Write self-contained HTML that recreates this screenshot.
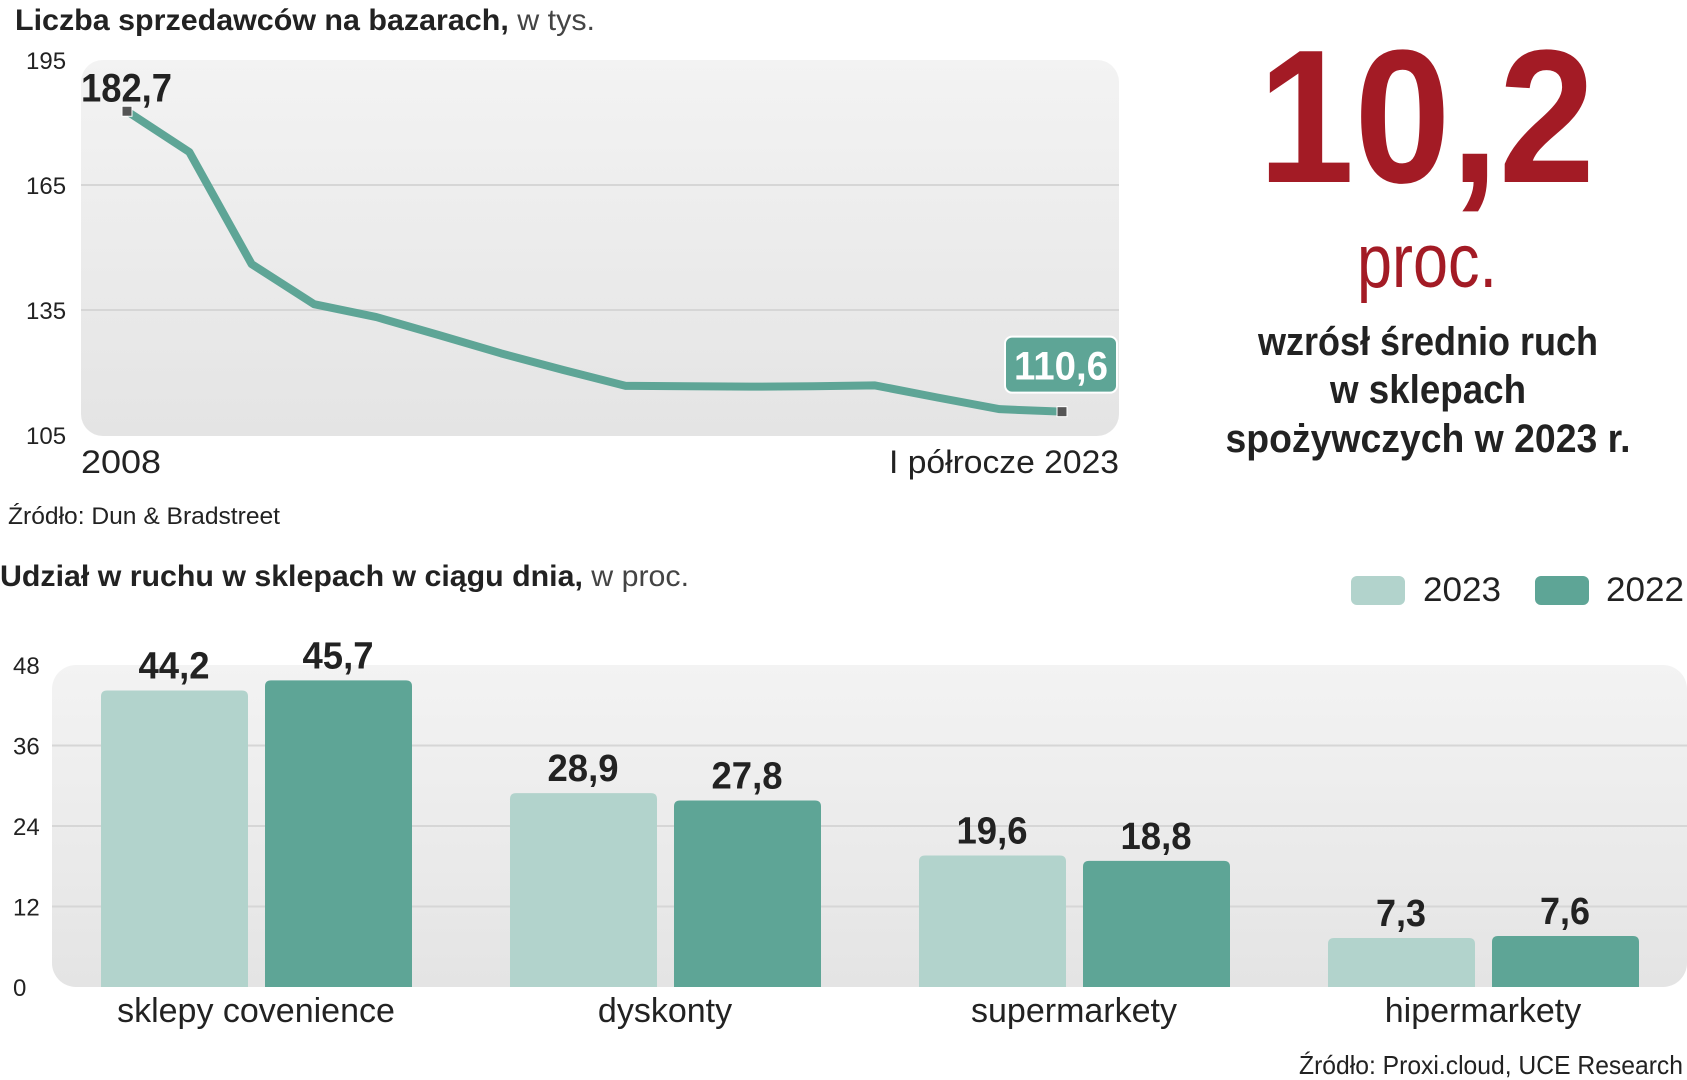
<!DOCTYPE html>
<html><head><meta charset="utf-8"><style>
html,body{margin:0;padding:0;background:#fff}
svg{display:block}
text{font-family:"Liberation Sans Narrow","Liberation Sans",sans-serif;fill:#222}
</style></head><body>
<svg id="c" width="1687" height="1080" viewBox="0 0 1687 1080" xmlns="http://www.w3.org/2000/svg">
<defs>
<linearGradient id="bg" x1="0" y1="0" x2="0" y2="1"><stop offset="0" stop-color="#f3f3f3"/><stop offset="1" stop-color="#e4e4e4"/></linearGradient>
</defs>
<text x="15" y="30" font-size="30" textLength="580" lengthAdjust="spacingAndGlyphs"><tspan font-weight="bold">Liczba sprzedawców na bazarach,</tspan><tspan fill="#444"> w tys.</tspan></text>
<rect x="81" y="60" width="1038" height="376" rx="22" fill="url(#bg)"/>
<g id="lineGrid"></g>
<g id="lineMarks"></g>
<text x="81" y="473" font-size="32" textLength="80" lengthAdjust="spacingAndGlyphs">2008</text>
<text x="1119" y="473" font-size="32" text-anchor="end" textLength="230" lengthAdjust="spacingAndGlyphs">I półrocze 2023</text>
<text x="8" y="524" font-size="24" fill="#333" textLength="272" lengthAdjust="spacingAndGlyphs">Źródło: Dun &amp; Bradstreet</text>

<text x="1258" y="182" font-size="190" font-weight="bold" style="fill:#a31b25" textLength="337" lengthAdjust="spacingAndGlyphs">10,2</text>
<text x="1357" y="287" font-size="76" style="fill:#a31b25" textLength="140" lengthAdjust="spacingAndGlyphs">proc.</text>
<text x="1428" y="355" font-size="40" font-weight="bold" text-anchor="middle" textLength="340" lengthAdjust="spacingAndGlyphs">wzrósł średnio ruch</text>
<text x="1428" y="403" font-size="40" font-weight="bold" text-anchor="middle" textLength="196" lengthAdjust="spacingAndGlyphs">w sklepach</text>
<text x="1428" y="452" font-size="40" font-weight="bold" text-anchor="middle" textLength="405" lengthAdjust="spacingAndGlyphs">spożywczych w 2023 r.</text>

<text x="0" y="586" font-size="30" textLength="689" lengthAdjust="spacingAndGlyphs"><tspan font-weight="bold">Udział w ruchu w sklepach w ciągu dnia,</tspan><tspan fill="#444"> w proc.</tspan></text>
<g>
<rect x="1351" y="576" width="54" height="29" rx="6" fill="#b2d3cc"/>
<text x="1423" y="601" font-size="34" fill="#333" textLength="78" lengthAdjust="spacingAndGlyphs">2023</text>
<rect x="1535" y="576" width="54" height="29" rx="6" fill="#5ea596"/>
<text x="1606" y="601" font-size="34" fill="#333" textLength="78" lengthAdjust="spacingAndGlyphs">2022</text>
</g>
<rect x="52" y="665" width="1635" height="322" rx="24" fill="url(#bg)"/>
<g id="barGrid"></g>
<g id="barMarks"></g>
<text x="1683" y="1074" font-size="26" fill="#333" text-anchor="end" textLength="384" lengthAdjust="spacingAndGlyphs">Źródło: Proxi.cloud, UCE Research</text>
</svg>
<script>
const lineValues = [182.7,172.9,146.0,136.4,133.3,129.0,124.6,120.6,116.8,116.7,116.6,116.7,116.9,114.0,111.2,110.6];
const lineTicks = [195,165,135,105];
const categories = ["sklepy covenience","dyskonty","supermarkety","hipermarkety"];
const values2023 = [44.2,28.9,19.6,7.3];
const values2022 = [45.7,27.8,18.8,7.6];
const barTicks = [48,36,24,12,0];
const labels2023 = ["44,2","28,9","19,6","7,3"];
const labels2022 = ["45,7","27,8","18,8","7,6"];

const NS="http://www.w3.org/2000/svg";
function mk(tag,attrs,parent,txt){const e=document.createElementNS(NS,tag);for(const k in attrs)e.setAttribute(k,attrs[k]);if(txt!==undefined)e.textContent=txt;parent.appendChild(e);return e;}
// line chart axes
const ly=v=>60+(195-v)*(375/90);
const lx=i=>127+i*(1062-127)/(lineValues.length-1);
const lg=document.getElementById('lineGrid');
lineTicks.forEach(t=>{
  if(t!==195&&t!==105){const g=mk('line',{x1:81,x2:1119,y1:ly(t),y2:ly(t),stroke:'#d6d6d6','stroke-width':2},lg);
  
  }
  const tx=mk('text',{x:26,y:ly(t)+9,'font-size':24,fill:'#444'},lg,String(t));
  
  
});
const lm=document.getElementById('lineMarks');
const pl=mk('polyline',{points:lineValues.map((v,i)=>lx(i)+','+ly(v)).join(' '),fill:'none',stroke:'#5ea596','stroke-width':8,'stroke-linejoin':'round'},lm);


[0,lineValues.length-1].forEach(i=>{
  const m=mk('rect',{x:lx(i)-5,y:ly(lineValues[i])-5,width:10,height:10,fill:'#555',stroke:'#fff','stroke-width':1},lm);
  
  
});
const fl=mk('text',{x:81,y:ly(lineValues[0])-10,'font-size':40,'font-weight':'bold',textLength:91,lengthAdjust:'spacingAndGlyphs'},lm,String(lineValues[0]).replace('.',','));


const lastV=lineValues[lineValues.length-1];
const bx=mk('rect',{x:1005,y:ly(lastV)-75,width:112,height:56,rx:7,fill:'#5ea596',stroke:'#fff','stroke-width':2},lm);


const bt=mk('text',{x:1061,y:ly(lastV)-32,'font-size':40,'font-weight':'bold','text-anchor':'middle',style:'fill:#fff',textLength:94,lengthAdjust:'spacingAndGlyphs'},lm,String(lastV).replace('.',','));


// bar chart axes
const by=v=>987-v*(322/48);
const gx=i=>101+i*409;
const bg=document.getElementById('barGrid');
barTicks.forEach(t=>{
  if(t!==48&&t!==0){const g=mk('line',{x1:52,x2:1687,y1:by(t),y2:by(t),stroke:'#d6d6d6','stroke-width':2},bg);
  
  }
  const tx=mk('text',{x:13,y:by(t)+9,'font-size':24,fill:'#444'},bg,String(t));
  
  
});
const bm=document.getElementById('barMarks');
categories.forEach((c,i)=>{
  [[values2023,labels2023,'#b2d3cc',0,'2023'],[values2022,labels2022,'#5ea596',164,'2022']].forEach(([vals,labs,col,off,yr])=>{
    const x=gx(i)+off,y=by(vals[i]);
    const r=mk('path',{d:`M${x},987 V${y+6} Q${x},${y} ${x+6},${y} H${x+141} Q${x+147},${y} ${x+147},${y+6} V987 Z`,fill:col},bm);
    
    
    const t=mk('text',{x:x+73,y:y-12,'font-size':38,'font-weight':'bold','text-anchor':'middle',textLength:labs[i].length>3?71:50,lengthAdjust:'spacingAndGlyphs'},bm,labs[i]);
    
    
  });
  const cl=mk('text',{x:gx(i)+155,y:1022,'font-size':34,'text-anchor':'middle'},bm,c);
  
  
});
</script>
</body></html>
